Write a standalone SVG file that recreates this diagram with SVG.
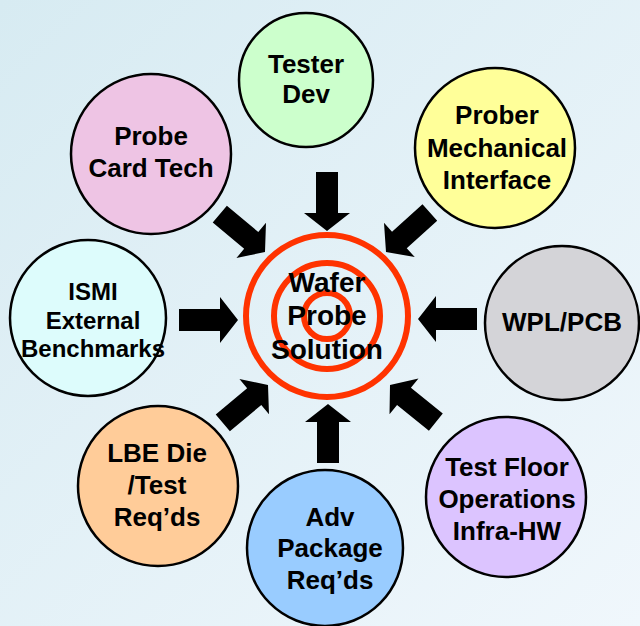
<svg xmlns="http://www.w3.org/2000/svg" xmlns:xlink="http://www.w3.org/1999/xlink" width="640" height="626" viewBox="0 0 640 626">
<defs>
<linearGradient id="bg" x1="0" y1="0" x2="1" y2="1">
<stop offset="0" stop-color="#d7ebf2"/>
<stop offset="1" stop-color="#f0f7fc"/>
</linearGradient>
<polygon id="arr" points="-59,-11 -18,-11 -18,-23 0,0 -18,23 -18,11 -59,11" fill="#000"/>
</defs>
<style>
.n{stroke:#000;stroke-width:2.5}
.t{font-family:"Liberation Sans",Arial,sans-serif;font-weight:bold;font-size:26px;text-anchor:middle;fill:#000}
.s{font-size:24px}
.c{font-size:28px}
.ring{fill:none;stroke:#ff3300;stroke-width:6}
</style>
<rect width="640" height="626" fill="url(#bg)"/>
<g id="connectors">
<use xlink:href="#arr" transform="translate(327,231) rotate(90)"/>
<use xlink:href="#arr" transform="translate(238,320)"/>
<use xlink:href="#arr" transform="translate(418,319) rotate(180)"/>
<use xlink:href="#arr" transform="translate(328,404) rotate(-90)"/>
<use xlink:href="#arr" transform="translate(265,252) rotate(40)"/>
<use xlink:href="#arr" transform="translate(386,252) rotate(138)"/>
<use xlink:href="#arr" transform="translate(268,385) rotate(-40)"/>
<use xlink:href="#arr" transform="translate(390,385) rotate(-141)"/>
</g>
<g id="tester">
<circle class="n" cx="306" cy="80" r="67" fill="#ccffcc"/>
<text class="t" x="306" y="73">Tester</text>
<text class="t" x="306" y="103">Dev</text>
</g>
<g id="probecard">
<circle class="n" cx="151" cy="154" r="80" fill="#eec4e4"/>
<text class="t" x="151" y="145">Probe</text>
<text class="t" x="151" y="177">Card Tech</text>
</g>
<g id="prober">
<circle class="n" cx="495" cy="148" r="80" fill="#ffff99"/>
<text class="t" x="497" y="124">Prober</text>
<text class="t" x="497" y="157">Mechanical</text>
<text class="t" x="497" y="189">Interface</text>
</g>
<g id="ismi">
<circle class="n" cx="88" cy="318" r="78" fill="#ddfcfc"/>
<text class="t s" x="93" y="300">ISMI</text>
<text class="t s" x="93" y="329">External</text>
<text class="t s" x="93" y="357">Benchmarks</text>
</g>
<g id="wpl">
<circle class="n" cx="562" cy="323" r="77" fill="#d4d4d8"/>
<text class="t" x="562" y="331">WPL/PCB</text>
</g>
<g id="lbe">
<circle class="n" cx="158" cy="486" r="80" fill="#ffcc99"/>
<text class="t" x="157" y="462">LBE Die</text>
<text class="t" x="157" y="494">/Test</text>
<text class="t" x="157" y="526">Req’ds</text>
</g>
<g id="adv">
<circle class="n" cx="325" cy="548" r="78" fill="#99ccff"/>
<text class="t" x="330" y="526">Adv</text>
<text class="t" x="330" y="557">Package</text>
<text class="t" x="330" y="589">Req’ds</text>
</g>
<g id="testfloor">
<circle class="n" cx="506" cy="497" r="80" fill="#dcc4ff"/>
<text class="t" x="507" y="476">Test Floor</text>
<text class="t" x="507" y="508">Operations</text>
<text class="t" x="507" y="540">Infra-HW</text>
</g>
<g id="target">
<circle class="ring" cx="327" cy="316" r="81"/>
<circle class="ring" cx="327" cy="316" r="53" fill="#fff"/>
<circle class="ring" cx="327" cy="316" r="23"/>
<text class="t c" x="327" y="292">Wafer</text>
<text class="t c" x="327" y="325">Probe</text>
<text class="t c" x="327" y="359">Solution</text>
</g>
</svg>
